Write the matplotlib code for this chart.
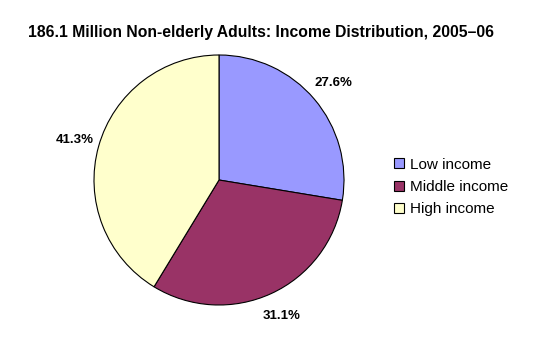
import matplotlib.pyplot as plt

plt.rcParams["font.family"] = ["Liberation Sans", "DejaVu Sans"]

categories = ["Low income", "Middle income", "High income"]
shares = [27.6, 31.1, 41.3]
colors = ["#9999FF", "#993366", "#FFFFCC"]

fig = plt.figure(figsize=(5.43, 3.59), dpi=100)
ax = fig.add_axes([94 / 543, 54 / 359, 250 / 543, 250 / 359])

wedges, texts, autotexts = ax.pie(
    shares, colors=colors, startangle=90, counterclock=False,
    autopct="%.1f%%", pctdistance=1.2,
    wedgeprops=dict(edgecolor="black", linewidth=0.8),
    textprops=dict(fontsize=9.5, fontweight="bold", color="black"),
)
ax.set_xlim(-1, 1)
ax.set_ylim(-1, 1)

fig.text(261 / 543, 1 - 33 / 359, "186.1 Million Non-elderly Adults: Income Distribution, 2005\u201306",
         ha="center", va="center", fontsize=11.3, fontweight="bold")

fig.legend(wedges, categories, loc="upper left", bbox_to_anchor=(386 / 543, 1 - 150 / 359),
           frameon=False, fontsize=11, handlelength=0.65, handleheight=0.65,
           handletextpad=0.4, labelspacing=0.55, borderpad=0)

fig.savefig("out.png", dpi=100, facecolor="white")
